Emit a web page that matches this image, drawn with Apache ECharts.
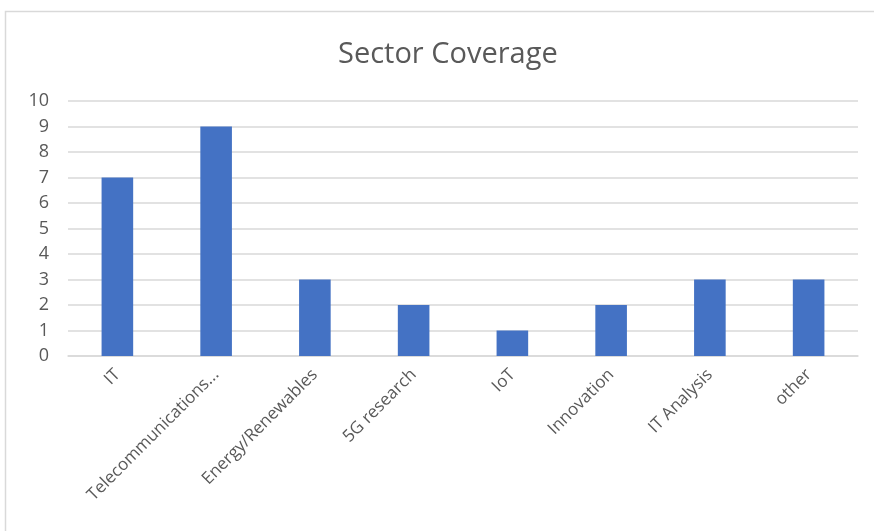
<!DOCTYPE html>
<html><head><meta charset="utf-8">
<script src="https://cdn.jsdelivr.net/npm/echarts@6/dist/echarts.min.js"></script>
<style>html,body{margin:0;padding:0;background:#fff}#c{width:874px;height:531px}</style>
</head><body><div id="c"></div>
<script>
const categories = ["IT","Telecommunications...","Energy/Renewables","5G research","IoT","Innovation","IT Analysis","other"];
const values = [7,9,3,2,1,2,3,3];
const yTicks = [0,1,2,3,4,5,6,7,8,9,10];

const chart = echarts.init(document.getElementById('c'));
chart.setOption({
  animation:false,
  title:{text:'Sector Coverage',left:338,top:40,padding:0,textStyle:{fontFamily:'Open Sans',fontSize:29,fontWeight:'normal',color:'#595959'}},
  graphic:[{type:'rect',shape:{x:5.5,y:11.5,width:900,height:600},style:{fill:'none',stroke:'#d9d9d9',lineWidth:1.5},silent:true}],
  grid:{left:68,right:16,top:101,bottom:175},
  xAxis:{type:'category',data:categories,
    axisLine:{lineStyle:{color:'#d9d9d9',width:1.5}},axisTick:{show:false},
    axisLabel:{rotate:45,interval:0,margin:16,fontFamily:'Open Sans',fontSize:17,color:'#595959'}},
  yAxis:{type:'value',min:yTicks[0],max:yTicks[yTicks.length-1],interval:1,
    axisLine:{show:false},axisTick:{show:false},
    splitLine:{lineStyle:{color:'#d9d9d9',width:1.5}},
    axisLabel:{margin:19,fontFamily:'Open Sans',fontSize:18,color:'#595959'}},
  series:[{type:'bar',data:values,barWidth:'32%',itemStyle:{color:'#4472C4'}}]
});
</script></body></html>
